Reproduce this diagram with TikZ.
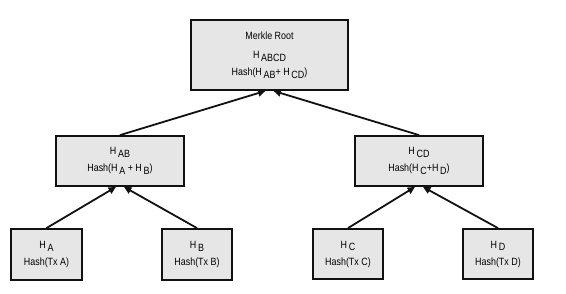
\documentclass[tikz,border=0pt]{standalone}
\usepackage{fontspec}
\setmainfont{Liberation Sans}[FakeStretch=0.85]
\usepackage{tikz}
\usetikzlibrary{arrows.meta,positioning}
\usepackage{xcolor}
\definecolor{Ink}{HTML}{111111}
\definecolor{Box}{HTML}{E6E6E6}
\newcommand{\hs}[1]{H\,\raisebox{-.45ex}{#1}}

\begin{document}
\begin{tikzpicture}[x=1pt,y=-1pt, b/.style={draw=Ink,fill=Box,line width=1.8pt,align=center,font=\fontsize{10.5}{17}\selectfont,inner sep=0pt}, a/.style={-{Triangle[length=2.6mm,width=2.4mm]},line width=1.8pt,draw=Ink}]
    \useasboundingbox (0,0) rectangle (566,293);
    \node[b,minimum width=157pt,minimum height=70pt] (r) at (269.5,55) {Merkle Root\\[2pt]\hs{ABCD}\\Hash(\hs{AB}+ \hs{CD})};
    \node[b,minimum width=128pt,minimum height=50pt] (ab) at (120,161) {\hs{AB}\\Hash(\hs{A} + \hs{B})};
    \node[b,minimum width=128pt,minimum height=50pt] (cd) at (419,161) {\hs{CD}\\Hash(\hs{C}+\hs{D})};
    \node[b,minimum width=71pt,minimum height=51pt] (ha) at (46.5,254.5) {\hs{A}\\Hash(Tx A)}; \node[b,minimum width=70pt,minimum height=51pt] (hb) at (197,254.5) {\hs{B}\\Hash(Tx B)};
    \node[b,minimum width=70pt,minimum height=50pt] (hc) at (348,254) {\hs{C}\\Hash(Tx C)}; \node[b,minimum width=70pt,minimum height=50pt] (hd) at (498,254) {\hs{D}\\Hash(Tx D)};
    \draw[a](ab.north)--([xshift=-4pt]r.south);\draw[a](cd.north)--([xshift=4pt]r.south);
    \draw[a](ha.north)--([xshift=-4pt]ab.south);\draw[a](hb.north)--([xshift=4pt]ab.south);
    \draw[a](hc.north)--([xshift=-4pt]cd.south);\draw[a](hd.north)--([xshift=4pt]cd.south);
  \end{tikzpicture}
\end{document}
